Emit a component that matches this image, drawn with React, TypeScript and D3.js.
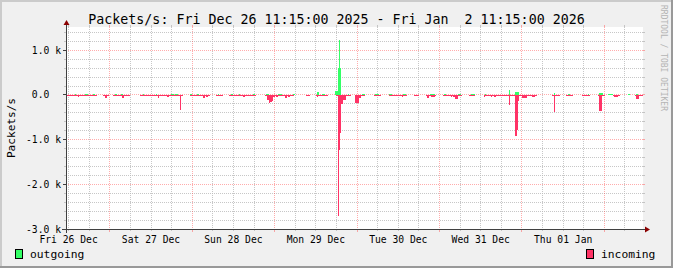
import React from "react";
import * as d3 from "d3";

const W = 673;
const H = 268;
const START = new Date(2025, 11, 26, 11, 15);
const END = new Date(2026, 0, 2, 11, 15);

const TITLE = "Packets/s: Fri Dec 26 11:15:00 2025 - Fri Jan  2 11:15:00 2026";
const Y_TITLE = "Packets/s";
const WATERMARK = "RRDTOOL / TOBI OETIKER";

const yMajorTicks = [1000, 0, -1000, -2000, -3000];
const yTickLabels = ["1.0 k", "0.0  ", "-1.0 k", "-2.0 k", "-3.0 k"];

const legendNames = ["outgoing", "incoming"];
const seriesColors = ["#33ff66", "#ff3366"];

// hours after START where each step value begins (step-after)
const outgoingHours = [
  0, 2.5, 3.0, 5.6, 6.3, 8.0, 8.5, 14.3,
  14.8, 16.1, 16.5, 22.3, 22.8, 26.2, 26.6, 30.5,
  31.3, 31.8, 32.5, 36.2, 36.7, 38.1, 38.7, 44.2,
  44.5, 48.1, 48.6, 50.3, 50.7, 54.4, 54.9, 58.3,
  59.0, 61.7, 62.9, 66.0, 66.8, 73.0, 73.8, 74.6,
  75.3, 78.2, 79.2, 79.43, 79.7, 80.04, 82.05, 82.5,
  86.2, 87.0, 89.9, 91.1, 94.0, 94.8, 98.2, 98.85,
  106.1, 107.4, 110.0, 110.7, 114.2, 114.9, 117.8, 119.0,
  122.1, 122.4, 129.1, 129.4, 130.7, 131.2, 131.45, 131.8,
  142.2, 142.5, 146.1, 146.6, 151.9, 152.2, 155.3, 156.3,
  157.75, 159.2, 163.6, 164.1, 166.0, 166.5, 168,
];
const outgoingValues = [
  0, 25, 0, 25, 0, 25, 0, 25,
  0, 25, 0, 25, 0, 25, 0, 30,
  0, 30, 0, 25, 0, 25, 0, 25,
  0, 25, 0, 25, 0, 25, 0, 30,
  0, 30, 0, 25, 0, 60, 0, 25,
  0, 80, 600, 1240, 600, 0, 25, 0,
  25, 0, 25, 0, 25, 0, 25, 0,
  30, 0, 25, 0, 25, 0, 25, 0,
  30, 0, 120, 0, 70, 0, 70, 0,
  55, 0, 25, 0, 25, 0, 45, 0,
  25, 0, 25, 0, 25, 0, 0,
];

const incomingHours = [
  0, 3.55, 3.85, 9.0, 10.9, 11.5, 12.0, 12.4,
  13.8, 16.4, 16.8, 18.7, 21.6, 26.7, 27.2, 29.55,
  30.1, 33.25, 33.6, 34.2, 36.2, 40.0, 40.5, 40.8,
  41.2, 41.8, 43.7, 45.7, 47.6, 51.5, 52.0, 53.4,
  53.9, 55.4, 57.8, 58.6, 58.96, 59.45, 59.9, 60.4,
  60.85, 61.2, 61.7, 63.9, 64.35, 64.6, 65.1, 66.5,
  69.9, 70.9, 72.8, 73.1, 73.5, 76.2, 78.7, 79.13,
  79.42, 79.84, 80.13, 80.65, 81.38, 83.0, 84.15, 85.17,
  85.75, 87.2, 89.6, 91.6, 94.0, 97.7, 98.1, 99.3,
  101.3, 102.7, 104.9, 105.2, 105.6, 106.4, 107.4, 107.6,
  109.7, 112.0, 112.4, 112.6, 113.2, 114.0, 115.4, 117.3,
  119.2, 121.6, 122.1, 123.6, 124.1, 124.6, 125.1, 129.1,
  129.4, 130.6, 130.8, 131.2, 131.4, 131.7, 132.0, 132.8,
  134.1, 135.7, 136.6, 137.0, 141.4, 142.15, 142.5, 143.8,
  145.7, 147.7, 150.1, 152.5, 155.0, 155.3, 156.0, 156.9,
  159.3, 159.7, 160.7, 161.2, 165.6, 166.1, 166.8, 168,
];
const incomingValues = [
  -20, -45, -20, 0, -20, -60, -20, 0,
  -20, -60, -20, 0, -20, -75, -20, -50,
  -20, -330, -20, 0, -20, -60, -20, -40,
  -20, 0, -20, 0, -20, -40, -20, -30,
  -20, 0, -20, -120, -180, -150, -135, -50,
  -20, -50, -20, -60, -20, -45, -20, 0,
  -20, 0, -20, -45, -20, 0, -20, -2720,
  -1225, -850, -200, -110, -20, 0, -170, -60,
  -20, 0, -20, 0, -20, -40, -20, 0,
  -20, 0, -20, -60, -20, -40, -20, 0,
  -20, -40, -20, -50, -85, -20, 0, -20,
  0, -50, -20, -40, -20, -40, -20, -230,
  -20, -140, -925, -140, -780, -140, -30, -60,
  -20, -55, -20, 0, -20, -380, -20, 0,
  -20, 0, -20, 0, -20, -365, -20, 0,
  -20, -40, -20, 0, -20, -80, -20, -20,
];

const FONT = "'DejaVu Sans Mono', monospace";

export default function App() {
  const X0 = 66;
  const X1 = 643;
  const Y0 = 229;
  const Y1 = 27;

  const x = d3.scaleTime().domain([START, END]).range([X0, X1]);
  const y = d3.scaleLinear().domain([-3000, 1522]).range([Y0, Y1]);
  const toDate = (h: number) => new Date(START.getTime() + h * 3600 * 1000);
  const px = (v: number) => Math.floor(v) + 0.5;

  const minorY = d3.range(-3000, 1522, 200).filter((v) => v % 1000 !== 0);
  const minorX = d3.timeHour.every(6)!.range(START, END).filter((d) => d.getHours() !== 0);
  const majorX = d3.timeDay.range(START, END);
  const labelDays = d3
    .timeDay.range(d3.timeDay.floor(START), END)
    .map((d) => d3.timeHour.offset(d, 12))
    .filter((d) => d >= START && d <= END);
  const fmt = d3.timeFormat("%a %d %b");

  const area = d3
    .area<[number, number]>()
    .x((d) => x(toDate(d[0])))
    .y0(y(0))
    .y1((d) => y(d[1]))
    .curve(d3.curveStepAfter);

  const outData: [number, number][] = outgoingHours.map((h, i) => [h, outgoingValues[i]]);
  const inData: [number, number][] = incomingHours.map((h, i) => [h, incomingValues[i]]);

  const minorCol = "rgba(185,185,185,0.8)";
  const majorCol = "rgba(255,70,70,0.45)";
  const axisCol = "#404040";
  const arrowCol = "#8b0000";

  const ax = px(X0);
  const ay = px(Y0);

  return (
    <svg
      width={W}
      height={H}
      style={{ position: "absolute", left: 0, top: 0, display: "block" }}
      fontFamily={FONT}
    >
      <rect x={0} y={0} width={W} height={H} fill="#f0f0f0" />
      <rect x={0} y={0} width={W} height={2} fill="#cbcbcb" />
      <rect x={0} y={0} width={2} height={H} fill="#cbcbcb" />
      <rect x={W - 2} y={0} width={2} height={H} fill="#999999" />
      <rect x={0} y={H - 2} width={W} height={2} fill="#999999" />

      <rect x={X0} y={Y1} width={X1 - X0} height={Y0 - Y1} fill="#ffffff" />

      {/* minor grid */}
      <g stroke={minorCol} strokeWidth={1} shapeRendering="crispEdges">
        {minorY.map((v) => (
          <g key={"my" + v}>
            <line x1={X0} x2={X1} y1={px(y(v))} y2={px(y(v))} strokeDasharray="1,1" />
            <line x1={X0 - 2} x2={X0} y1={px(y(v))} y2={px(y(v))} />
            <line x1={X1} x2={X1 + 2} y1={px(y(v))} y2={px(y(v))} />
          </g>
        ))}
        {minorX.map((d) => (
          <g key={"mx" + d.getTime()}>
            <line x1={px(x(d))} x2={px(x(d))} y1={Y1} y2={Y0} strokeDasharray="1,1" />
            <line x1={px(x(d))} x2={px(x(d))} y1={Y1 - 2} y2={Y1} />
            <line x1={px(x(d))} x2={px(x(d))} y1={Y0} y2={Y0 + 2} />
          </g>
        ))}
      </g>
      {/* major grid */}
      <g stroke={majorCol} strokeWidth={1} shapeRendering="crispEdges">
        {yMajorTicks.map((v) => (
          <g key={"My" + v}>
            <line x1={X0} x2={X1} y1={px(y(v))} y2={px(y(v))} strokeDasharray="1,1" />
            <line x1={X1} x2={X1 + 2} y1={px(y(v))} y2={px(y(v))} />
          </g>
        ))}
        {majorX.map((d) => (
          <g key={"Mx" + d.getTime()}>
            <line x1={px(x(d))} x2={px(x(d))} y1={Y1} y2={Y0} strokeDasharray="1,1" />
            <line x1={px(x(d))} x2={px(x(d))} y1={Y1 - 2} y2={Y1} />
            <line x1={px(x(d))} x2={px(x(d))} y1={Y0} y2={Y0 + 3} />
          </g>
        ))}
      </g>

      {/* data */}
      <path d={area(outData) || ""} fill={seriesColors[0]} shapeRendering="crispEdges" />
      <path d={area(inData) || ""} fill={seriesColors[1]} shapeRendering="crispEdges" />

      {/* y tick marks for labels */}
      <g stroke={axisCol} shapeRendering="crispEdges">
        {yMajorTicks.map((v) => (
          <line key={"t" + v} x1={X0 - 3} x2={X0} y1={px(y(v))} y2={px(y(v))} />
        ))}
      </g>

      {/* axes */}
      <g stroke={axisCol} strokeWidth={1} shapeRendering="crispEdges">
        <line x1={X0 - 4} x2={X1 + 4} y1={ay} y2={ay} />
        <line x1={ax} x2={ax} y1={Y0 + 4} y2={Y1 - 4} />
      </g>
      <polygon
        points={`${ax - 3},${Y1 - 2} ${ax + 3},${Y1 - 2} ${ax},${Y1 - 7}`}
        fill={arrowCol}
      />
      <polygon
        points={`${X1 + 2},${ay - 3} ${X1 + 2},${ay + 3} ${X1 + 7},${ay}`}
        fill={arrowCol}
      />

      {/* y labels */}
      <g fontSize={9.7} fill="#000" textAnchor="end">
        {yMajorTicks.map((v, i) => (
          <text key={"yl" + v} x={61} y={px(y(v)) + 3.5} xmlSpace="preserve" style={{ whiteSpace: "pre" }}>
            {yTickLabels[i]}
          </text>
        ))}
      </g>
      {/* x labels */}
      <g fontSize={9.7} fill="#000" textAnchor="middle">
        {labelDays.map((d) => (
          <text key={"xl" + d.getTime()} x={x(d)} y={242.5}>
            {fmt(d)}
          </text>
        ))}
      </g>

      {/* title */}
      <text x={W / 2} y={23.7} fontSize={13.3} textAnchor="middle" fill="#000" xmlSpace="preserve" style={{ whiteSpace: "pre" }}>
        {TITLE}
      </text>
      {/* y title */}
      <text
        transform={`translate(14.5,${(Y0 + Y1) / 2}) rotate(-90)`}
        fontSize={11.1}
        textAnchor="middle"
        fill="#000"
      >
        {Y_TITLE}
      </text>
      {/* watermark */}
      <text transform="translate(660.5,5) rotate(90)" fontSize={8} fill="#b4b4b4">
        {WATERMARK}
      </text>

      {/* legend */}
      <rect x={15.5} y={249.5} width={7} height={9} fill={seriesColors[0]} stroke="#000" strokeWidth={1} />
      <text x={30} y={257.5} fontSize={11.3} fill="#000">
        {legendNames[0]}
      </text>
      <rect x={586.5} y={249.5} width={7} height={9} fill={seriesColors[1]} stroke="#000" strokeWidth={1} />
      <text x={601} y={257.5} fontSize={11.3} fill="#000">
        {legendNames[1]}
      </text>
    </svg>
  );
}
